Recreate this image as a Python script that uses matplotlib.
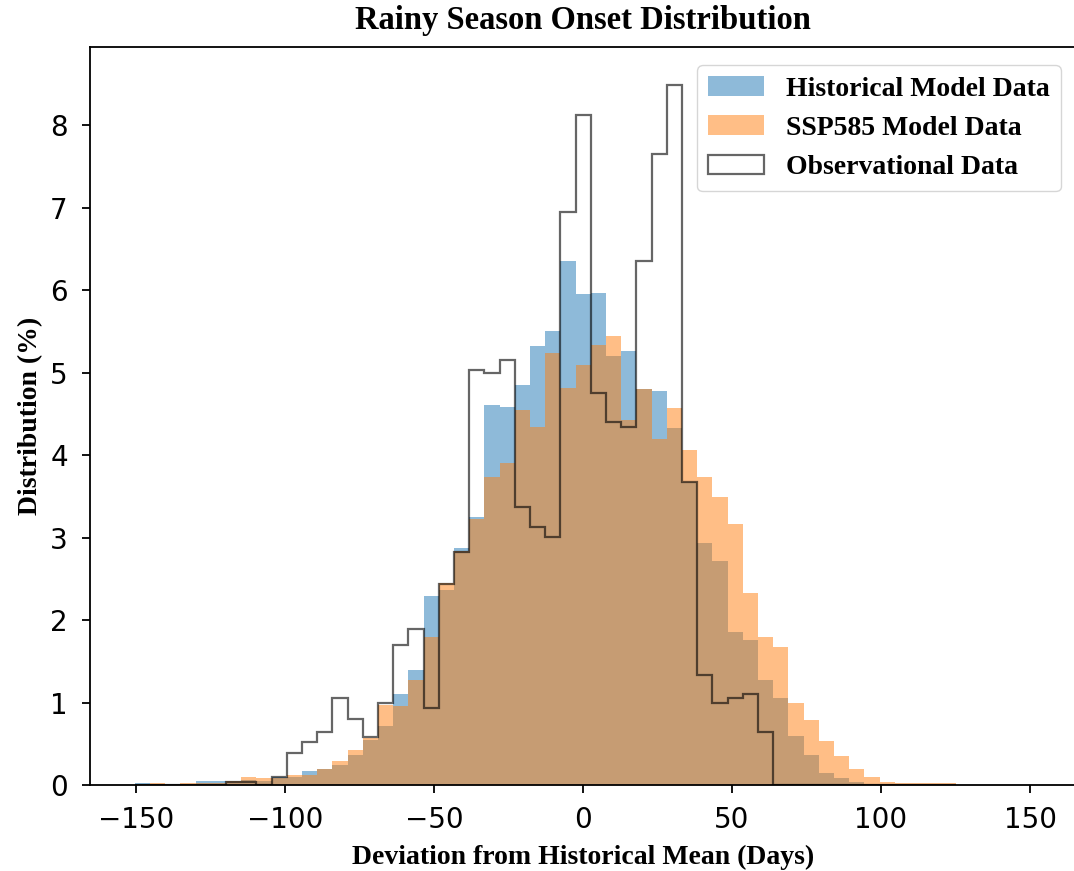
import numpy as np
import matplotlib

matplotlib.use("Agg")
import matplotlib.pyplot as plt

# bin layout (days): 54 bins of ~5.1 days
bin_edges = np.linspace(-150.4, 125.0, 55)
bin_centers = 0.5 * (bin_edges[:-1] + bin_edges[1:])

# percentage of cases per bin
historical = [
    0.03, 0.01, 0.00, 0.01, 0.05, 0.05, 0.05, 0.06, 0.05,
    0.10, 0.10, 0.17, 0.19, 0.24, 0.36, 0.55,
    0.72, 1.10, 1.39, 2.29, 2.36, 2.87, 3.25,
    4.61, 4.59, 4.85, 5.32, 5.51, 6.36, 5.95,
    5.97, 5.20, 5.26, 4.80, 4.78, 4.33, 3.68,
    2.93, 2.72, 1.85, 1.76, 1.27, 1.05, 0.60,
    0.37, 0.14, 0.09, 0.04, 0.01, 0.00, 0.00, 0.00, 0.00, 0.00,
]
ssp585 = [
    0.01, 0.03, 0.00, 0.03, 0.03, 0.03, 0.05, 0.10, 0.08,
    0.09, 0.12, 0.12, 0.19, 0.29, 0.43, 0.57,
    0.97, 0.96, 1.27, 1.80, 2.45, 2.84, 3.23,
    3.74, 3.90, 4.55, 4.34, 5.24, 4.81, 5.09,
    5.34, 5.44, 4.43, 4.80, 4.20, 4.57, 4.06,
    3.74, 3.49, 3.16, 2.33, 1.80, 1.68, 1.00,
    0.79, 0.54, 0.35, 0.20, 0.10, 0.04, 0.02, 0.02, 0.02, 0.02,
]
observed = [
    0.00, 0.00, 0.00, 0.00, 0.00, 0.00, 0.04, 0.04, 0.00,
    0.10, 0.39, 0.52, 0.64, 1.05, 0.80, 0.58,
    0.99, 1.70, 1.89, 0.94, 2.44, 2.83, 5.03,
    5.00, 5.16, 3.37, 3.13, 3.01, 6.95, 8.13,
    4.75, 4.40, 4.34, 6.35, 7.65, 8.49, 3.68,
    1.33, 1.00, 1.05, 1.11, 0.64, 0.00, 0.00,
    0.00, 0.00, 0.00, 0.00, 0.00, 0.00, 0.00, 0.00, 0.00, 0.00,
]

x_ticks = [-150, -100, -50, 0, 50, 100, 150]
y_ticks = [0, 1, 2, 3, 4, 5, 6, 7, 8]

serif_bold = {"family": "Liberation Serif", "weight": "bold"}

fig = plt.figure(figsize=(10.74, 8.71), dpi=100)
# right spine falls just past the image edge, as in the source picture
ax = fig.add_axes([0.0838, 0.0987, 0.918, 0.8473])

ax.hist(bin_centers, bins=bin_edges, weights=historical, color="tab:blue", alpha=0.5,
        label="Historical Model Data")
ax.hist(bin_centers, bins=bin_edges, weights=ssp585, color="tab:orange", alpha=0.5,
        label="SSP585 Model Data")
ax.hist(bin_centers, bins=bin_edges, weights=observed, histtype="step", color="black",
        alpha=0.6, linewidth=1.6, label="Observational Data")

ax.set_xlim(-165.4, 165.4)
ax.set_ylim(0, 8.95)
ax.set_xticks(x_ticks)
ax.set_yticks(y_ticks)
ax.tick_params(labelsize=20, length=6, width=1.3)
ax.tick_params(axis="x", pad=9)
ax.tick_params(axis="y", pad=10)
for sp in ax.spines.values():
    sp.set_linewidth(1.3)
ax.spines["right"].set_visible(False)

ax.set_title("Rainy Season Onset Distribution", fontsize=23.5, pad=13, **serif_bold)
ax.set_xlabel("Deviation from Historical Mean (Days)", fontsize=20, labelpad=8, **serif_bold)
ax.set_ylabel("Distribution (%)", fontsize=20, labelpad=5, **serif_bold)

leg = ax.legend(loc="upper right", bbox_to_anchor=(1061 / 1074, 1 - 65 / 871),
                bbox_transform=fig.transFigure, borderaxespad=0,
                prop={"family": "Liberation Serif", "weight": "bold", "size": 20})

fig.savefig("out.png", dpi=100)
